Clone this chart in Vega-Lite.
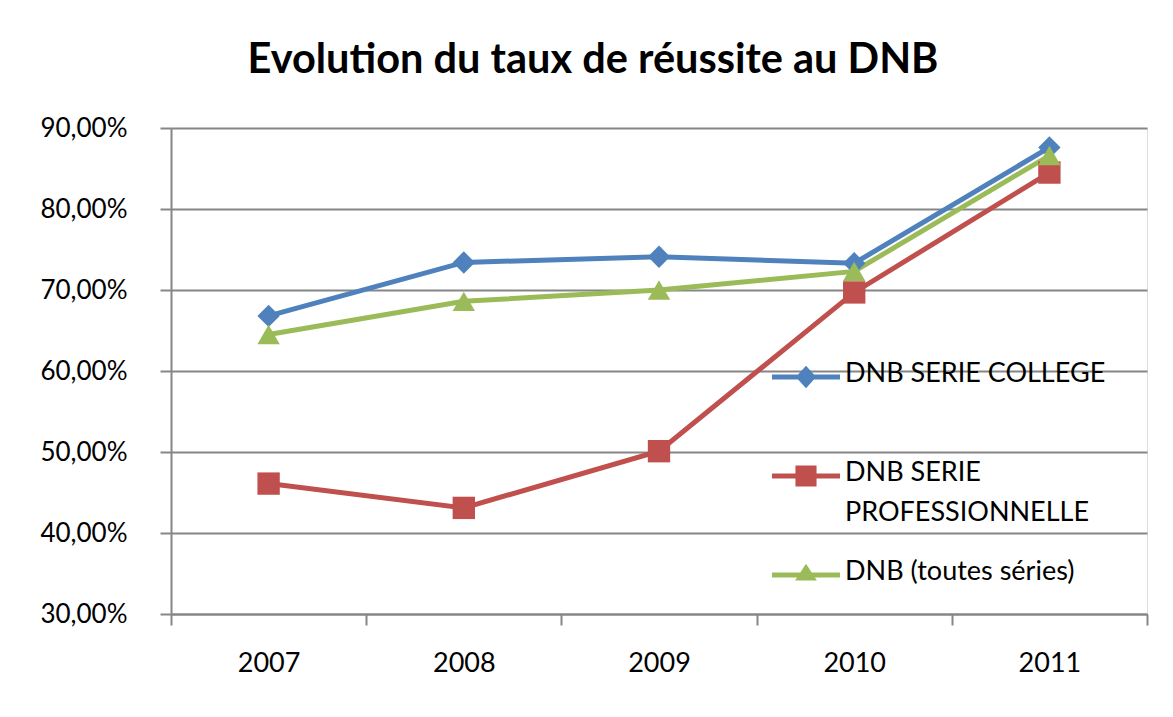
{
  "$schema": "https://vega.github.io/schema/vega-lite/v6.json",
  "width": 976,
  "height": 486,
  "autosize": {"type": "none"},
  "padding": {"left": 171, "top": 128, "right": 26, "bottom": 103},
  "background": "white",
  "title": {
    "text": "Evolution du taux de réussite au DNB",
    "font": "Lato",
    "fontSize": 41.5,
    "fontWeight": "bold",
    "color": "#000000",
    "anchor": "middle",
    "frame": "group",
    "dx": -66,
    "offset": 34
  },
  "data": {
    "values": [
      {"annee": "2007", "serie": "DNB SERIE COLLEGE", "taux": 0.668},
      {"annee": "2008", "serie": "DNB SERIE COLLEGE", "taux": 0.734},
      {"annee": "2009", "serie": "DNB SERIE COLLEGE", "taux": 0.741},
      {"annee": "2010", "serie": "DNB SERIE COLLEGE", "taux": 0.733},
      {"annee": "2011", "serie": "DNB SERIE COLLEGE", "taux": 0.876},
      {"annee": "2007", "serie": "DNB SERIE PROFESSIONNELLE", "taux": 0.461},
      {"annee": "2008", "serie": "DNB SERIE PROFESSIONNELLE", "taux": 0.431},
      {"annee": "2009", "serie": "DNB SERIE PROFESSIONNELLE", "taux": 0.501},
      {"annee": "2010", "serie": "DNB SERIE PROFESSIONNELLE", "taux": 0.697},
      {"annee": "2011", "serie": "DNB SERIE PROFESSIONNELLE", "taux": 0.845},
      {"annee": "2007", "serie": "DNB (toutes séries)", "taux": 0.645},
      {"annee": "2008", "serie": "DNB (toutes séries)", "taux": 0.686},
      {"annee": "2009", "serie": "DNB (toutes séries)", "taux": 0.700},
      {"annee": "2010", "serie": "DNB (toutes séries)", "taux": 0.723},
      {"annee": "2011", "serie": "DNB (toutes séries)", "taux": 0.866}
    ]
  },
  "encoding": {
    "x": {
      "field": "annee",
      "type": "nominal",
      "scale": {"type": "band", "paddingInner": 0, "paddingOuter": 0},
      "axis": {
        "title": null,
        "labelAngle": 0,
        "labelFont": "Lato",
        "labelFontSize": 27,
        "labelColor": "#000000",
        "labelPadding": 25,
        "tickBand": "extent",
        "tickSize": 11,
        "tickColor": "#868686",
        "tickWidth": 2,
        "domainColor": "#868686",
        "domainWidth": 2,
        "grid": false
      }
    },
    "y": {
      "field": "taux",
      "type": "quantitative",
      "scale": {"domain": [0.3, 0.9], "nice": false, "zero": false},
      "axis": {
        "title": null,
        "values": [0.3, 0.4, 0.5, 0.6, 0.7, 0.8, 0.9],
        "labelExpr": "replace(format(datum.value, '.2%'), '.', ',')",
        "labelFont": "Lato",
        "labelFontSize": 26,
        "labelColor": "#000000",
        "labelPadding": 33,
        "tickSize": 11,
        "tickColor": "#868686",
        "tickWidth": 2,
        "domainColor": "#868686",
        "domainWidth": 2,
        "grid": true,
        "gridColor": "#868686",
        "gridWidth": 2
      }
    },
    "color": {
      "field": "serie",
      "type": "nominal",
      "scale": {
        "domain": ["DNB SERIE COLLEGE", "DNB SERIE PROFESSIONNELLE", "DNB (toutes séries)"],
        "range": ["#4F81BD", "#C0504D", "#9BBB59"]
      },
      "legend": {
        "title": null,
        "orient": "none",
        "legendX": 601,
        "legendY": 215,
        "direction": "vertical",
        "symbolSize": 4624,
        "symbolStrokeWidth": 0,
        "labelFont": "Lato",
        "labelFontSize": 27,
        "labelColor": "#000000",
        "labelOffset": 5,
        "labelLimit": 400,
        "labelBaseline": "top",
        "rowPadding": 15,
        "labelExpr": "datum.label == 'DNB SERIE PROFESSIONNELLE' ? ['DNB SERIE', 'PROFESSIONNELLE'] : [datum.label, ' ']",
        "encode": {
          "symbols": {
            "update": {
              "shape": {"signal": "datum.value == 'DNB SERIE COLLEGE' ? 'M-1,-0.074H1V0.074H-1Z M0,-0.33L0.3,0L0,0.33L-0.3,0Z' : datum.value == 'DNB SERIE PROFESSIONNELLE' ? 'M-1,-0.074H1V0.074H-1Z M-0.31,-0.31H0.31V0.31H-0.31Z' : 'M-1,-0.074H1V0.074H-1Z M-0.32,0.16L0,-0.33L0.32,0.16Z'"},
              "fill": {"scale": "color", "field": "value"},
              "strokeWidth": {"value": 0},
              "opacity": {"value": 1}
            }
          },
          "labels": {
            "update": {
              "lineHeight": {"value": 40},
              "dy": {"value": -16}
            }
          }
        }
      }
    }
  },
  "layer": [
    {
      "mark": {"type": "line", "strokeWidth": 5}
    },
    {
      "mark": {"type": "point", "filled": true, "opacity": 1},
      "encoding": {
        "shape": {
          "condition": [
            {"test": "datum.serie == 'DNB SERIE COLLEGE'", "value": "diamond"},
            {"test": "datum.serie == 'DNB SERIE PROFESSIONNELLE'", "value": "square"}
          ],
          "value": "triangle-up"
        },
        "size": {"value": 500}
      }
    }
  ]
}
